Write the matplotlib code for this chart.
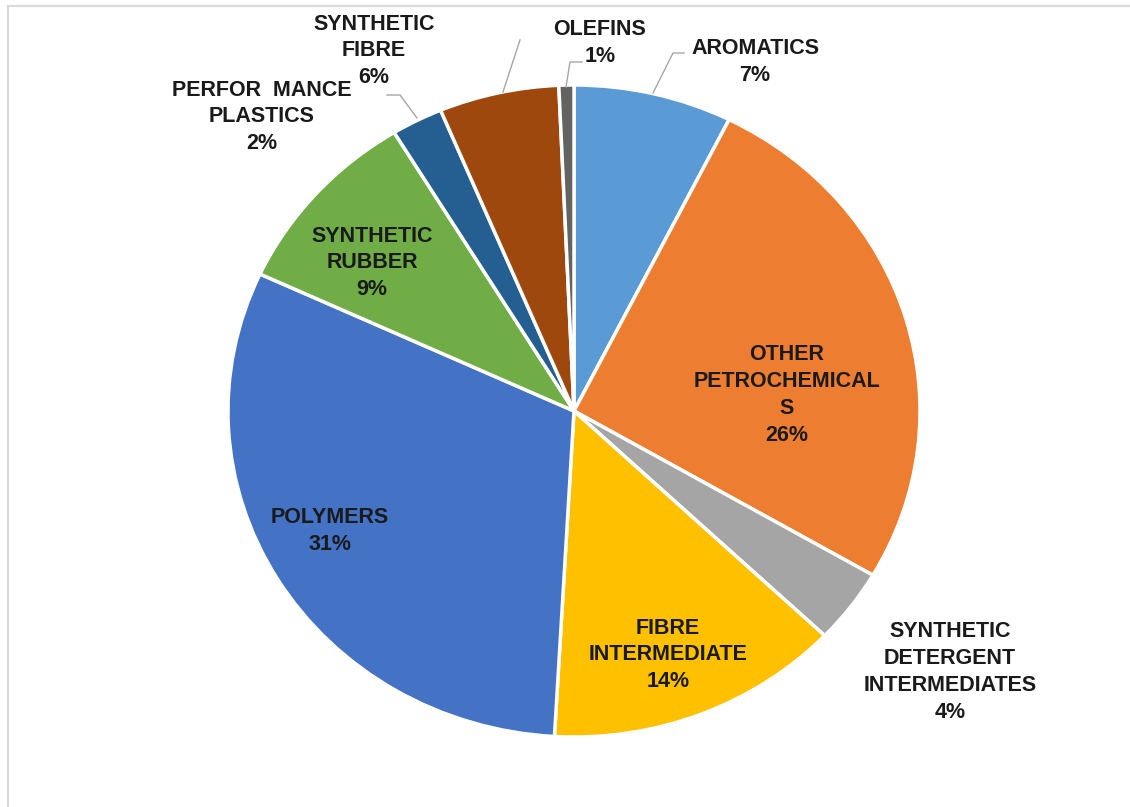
import matplotlib.pyplot as plt
from matplotlib.lines import Line2D

# Product shares of the petrochemical segment (percent)
categories = ["AROMATICS", "OTHER PETROCHEMICAL S", "SYNTHETIC DETERGENT INTERMEDIATES",
              "FIBRE INTERMEDIATE", "POLYMERS", "SYNTHETIC RUBBER",
              "PERFOR MANCE PLASTICS", "SYNTHETIC FIBRE", "OLEFINS"]
shares = [7.4, 26.0, 3.7, 13.8, 31.0, 9.4, 2.4, 5.6, 0.7]
label_text = ["AROMATICS", "OTHER\nPETROCHEMICAL\nS", "SYNTHETIC\nDETERGENT\nINTERMEDIATES",
              "FIBRE\nINTERMEDIATE", "POLYMERS", "SYNTHETIC\nRUBBER",
              "PERFOR  MANCE\nPLASTICS", "SYNTHETIC\nFIBRE", "OLEFINS"]
colors = ["#5B9BD5", "#ED7D31", "#A5A5A5", "#FFC000", "#4472C4", "#70AD47",
          "#255E91", "#9E480E", "#636363"]

W, H = 1130, 807
fig = plt.figure(figsize=(W / 100, H / 100), dpi=100)

# pie box in pixels (the original is slightly stretched sideways)
left, top, right, bottom = 228, 85, 920, 737
ax = fig.add_axes([left / W, (H - bottom) / H, (right - left) / W, (bottom - top) / H])
wedges, _ = ax.pie(shares, colors=colors, startangle=90, counterclock=False,
                   wedgeprops=dict(edgecolor="white", linewidth=2.5))
for w in wedges:
    w.set_clip_on(False)
ax.set_aspect("auto")
ax.set_xlim(-1, 1)
ax.set_ylim(-1, 1)


def fx(x):
    return x / W


def fy(y):
    return 1 - y / H


# label centres in pixels (x, y from top)
label_pos = [(755, 62), (787, 395), (950, 672), (668, 655), (330, 531),
             (372, 263), (262, 117), (374, 51), (600, 43)]

for txt, val, (x, y) in zip(label_text, shares, label_pos):
    s = f"{txt}\n{round(val):.0f}%"
    fig.text(fx(x), fy(y), s, ha="center", va="center", fontsize=15.5,
             fontweight="bold", family="Liberation Sans", color="#1a1a1a",
             linespacing=1.37)

# leader lines
leaders = [
    [(653, 93), (673, 53), (684, 53)],   # aromatics
    [(566, 87), (570, 62), (582, 62)],   # olefins
    [(503, 92), (520, 40)],              # synthetic fibre
    [(417, 118), (400, 95), (387, 95)],  # performance plastics
]
for pts in leaders:
    xs = [fx(p[0]) for p in pts]
    ys = [fy(p[1]) for p in pts]
    fig.add_artist(Line2D(xs, ys, color="#a6a6a6", lw=1))

# chart frame (top and left edges visible)
fig.add_artist(Line2D([fx(8), 1], [fy(6), fy(6)], color="#d9d9d9", lw=1.5))
fig.add_artist(Line2D([fx(8), fx(8)], [fy(6), 0], color="#d9d9d9", lw=1.5))

fig.savefig("out.png", dpi=100)
